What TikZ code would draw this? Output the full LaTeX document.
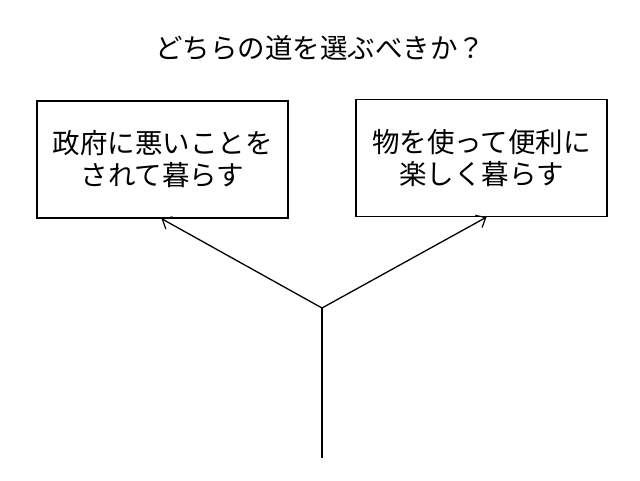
\documentclass[tikz,border=0pt]{standalone}
\usepackage{fontspec}
\newfontfamily\jp{Noto Sans CJK JP}
\usetikzlibrary{arrows.meta}
\begin{document}
\begin{tikzpicture}[x=1pt,y=-1pt,
  choice/.style={draw,line width=1.3pt,minimum width=251pt,minimum height=117pt,inner sep=0pt,align=center,font=\jp\fontsize{27.5}{32}\selectfont},
  road/.style={line width=1.3pt},
  pointer/.style={road,-{Straight Barb[length=8pt,width=14pt,line width=1.2pt]}}]
\useasboundingbox[fill=white] (0,0) rectangle (640,480);
\node[font=\jp\fontsize{27.5}{32}\selectfont] (title) at (320,48) {どちらの道を選ぶべきか？};
\node[choice] (left) at (162.5,159.5) {政府に悪いことを\\されて暮らす};
\node[choice] (right) at (481.5,158) {物を使って便利に\\楽しく暮らす};
\coordinate (fork) at (322,308);
\coordinate (base) at (322,458);
\coordinate (lt) at ([xshift=-1pt]left.south);
\coordinate (rt) at ([xshift=5pt]right.south);
\draw[road] (base) -- (fork);
\draw[pointer] (fork) -- (lt);
\draw[pointer] (fork) -- (rt);
\end{tikzpicture}
\end{document}
